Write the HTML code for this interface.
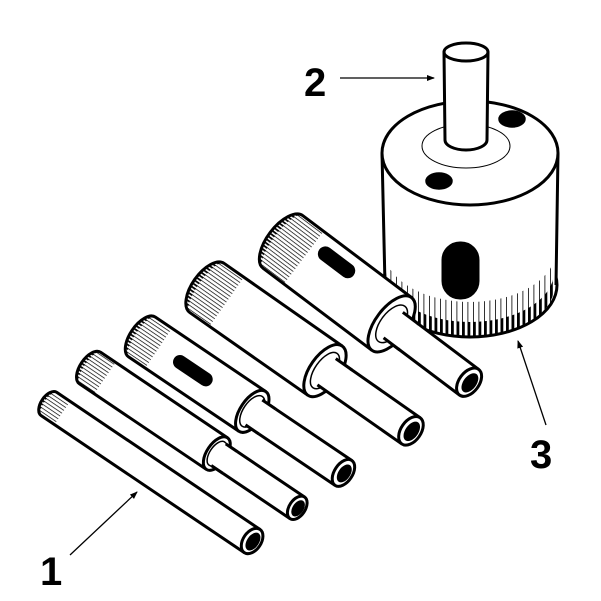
<!DOCTYPE html>
<html><head><style>html,body{margin:0;padding:0;background:#fff}svg{display:block}</style></head>
<body>
<svg width="601" height="601" viewBox="0 0 601 601" xmlns="http://www.w3.org/2000/svg">
<defs>
<pattern id="kt" width="3.4" height="3.4" patternUnits="userSpaceOnUse"><rect x="0" y="0" width="3.4" height="1.7" fill="#000"/></pattern>
<pattern id="kh" width="3.4" height="3.4" patternUnits="userSpaceOnUse"><rect x="0" y="0" width="3.4" height="0.7" fill="#000"/></pattern>
<pattern id="vt" width="5.5" height="10" patternUnits="userSpaceOnUse"><rect x="0" y="0" width="2.8" height="10" fill="#000"/></pattern>
<pattern id="vh" width="5.5" height="10" patternUnits="userSpaceOnUse"><rect x="0" y="0" width="0.8" height="10" fill="#000"/></pattern>
<marker id="ar" markerWidth="8" markerHeight="8" refX="7" refY="4" orient="auto" markerUnits="userSpaceOnUse"><path d="M0,1 L8,4 L0,7 Z" fill="#000"/></marker>
</defs>
<g stroke="#000" stroke-width="3" fill="#fff">
<!-- big cylinder -->
<rect x="382" y="153" width="176" height="132" stroke="none"/>
<ellipse cx="470" cy="285" rx="87" ry="52"/>
<rect x="384" y="153" width="172" height="132" stroke="none"/>
<path d="M384,285 A86,52 0 0 0 556,285 L556,250 A86,52 0 0 1 384,250 Z" fill="url(#vh)" stroke="none"/>
<path d="M386,287 A84,50 0 0 0 554,287 L554,272 A84,50 0 0 1 386,272 Z" fill="url(#vt)" stroke="none"/>
<path d="M382,153 L385,285 M558,153 L556,285" fill="none"/>
<ellipse cx="470" cy="153" rx="88" ry="52"/>
<ellipse cx="466" cy="146" rx="44" ry="22" stroke-width="1"/>
<ellipse cx="512" cy="119" rx="13" ry="8" fill="#000" stroke-width="1.5"/>
<ellipse cx="439" cy="181" rx="13" ry="8" fill="#000" stroke-width="1.5"/>
<rect x="443" y="243" width="35" height="55" rx="17" fill="#000"/>
<rect x="444" y="52" width="44" height="96" stroke="none"/>
<path d="M444,52 L445,140 A21,10 0 0 0 487,140 L488,52" />
<ellipse cx="466" cy="52" rx="22" ry="9"/>

<!-- tube 5 -->
<g transform="translate(283,242) rotate(37)">
<rect x="136" y="-16" width="97" height="32" stroke="none"/>
<path d="M136,-16 L233,-16 M136,16 L233,16" fill="none"/>
<ellipse cx="233" cy="0" rx="10" ry="16"/><ellipse cx="234" cy="0" rx="6.5" ry="11" fill="#000" stroke="none"/>
<path d="M136,-33 L0,-33 A16,33 0 0 0 0,33 L136,33" />
<path d="M0,-33 A16,33 0 0 0 0,33 L26,33 L26,-33 Z" fill="url(#kh)" stroke="none"/>
<path d="M0,-33 A16,33 0 0 0 0,33 A10,33 0 0 1 0,-33 Z" fill="url(#kt)" stroke="none"/>
<ellipse cx="136" cy="0" rx="16" ry="33"/>
<ellipse cx="136" cy="0" rx="11" ry="22" stroke-width="1.5"/>
<rect x="136" y="-16" width="20" height="32" stroke="none"/>
<path d="M138,-16 L158,-16 M138,16 L158,16" fill="none"/>
<rect x="35" y="-22" width="40" height="12" rx="6" fill="#000"/>
</g>
<!-- tube 4 -->
<g transform="translate(207,288) rotate(35)">
<rect x="144" y="-16" width="105" height="32" stroke="none"/>
<path d="M144,-16 L249,-16 M144,16 L249,16" fill="none"/>
<ellipse cx="249" cy="0" rx="10" ry="16"/><ellipse cx="250" cy="0" rx="6.5" ry="11" fill="#000" stroke="none"/>
<path d="M144,-30 L0,-30 A15,30 0 0 0 0,30 L144,30" />
<path d="M0,-30 A15,30 0 0 0 0,30 L24,30 L24,-30 Z" fill="url(#kh)" stroke="none"/>
<path d="M0,-30 A15,30 0 0 0 0,30 A9,30 0 0 1 0,-30 Z" fill="url(#kt)" stroke="none"/>
<ellipse cx="144" cy="0" rx="15" ry="30"/>
<ellipse cx="144" cy="0" rx="10" ry="21" stroke-width="1.5"/>
<rect x="144" y="-16" width="20" height="32" stroke="none"/>
<path d="M146,-16 L166,-16 M146,16 L166,16" fill="none"/>
</g>
<!-- tube 3 -->
<g transform="translate(142,337) rotate(34)">
<rect x="133" y="-15" width="110" height="30" stroke="none"/>
<path d="M133,-15 L243,-15 M133,15 L243,15" fill="none"/>
<ellipse cx="243" cy="0" rx="9" ry="15"/><ellipse cx="244" cy="0" rx="6" ry="10" fill="#000" stroke="none"/>
<path d="M133,-24 L0,-24 A12,24 0 0 0 0,24 L133,24" />
<path d="M0,-24 A12,24 0 0 0 0,24 L20,24 L20,-24 Z" fill="url(#kh)" stroke="none"/>
<path d="M0,-24 A12,24 0 0 0 0,24 A7,24 0 0 1 0,-24 Z" fill="url(#kt)" stroke="none"/>
<ellipse cx="133" cy="0" rx="12" ry="24"/>
<ellipse cx="133" cy="0" rx="9" ry="18" stroke-width="1.5"/>
<rect x="133" y="-15" width="18" height="30" stroke="none"/>
<path d="M135,-15 L151,-15 M135,15 L151,15" fill="none"/>
<rect x="40" y="-6" width="42" height="11" rx="5.5" fill="#000"/>
</g>
<!-- tube 2 -->
<g transform="translate(90,368) rotate(34)">
<rect x="153" y="-13" width="97" height="26" stroke="none"/>
<path d="M153,-13 L250,-13 M153,13 L250,13" fill="none"/>
<ellipse cx="250" cy="0" rx="8" ry="13"/><ellipse cx="251" cy="0" rx="5.5" ry="9" fill="#000" stroke="none"/>
<path d="M153,-19 L0,-19 A10,19 0 0 0 0,19 L153,19" />
<path d="M0,-19 A10,19 0 0 0 0,19 L18,19 L18,-19 Z" fill="url(#kh)" stroke="none"/>
<path d="M0,-19 A10,19 0 0 0 0,19 A6,19 0 0 1 0,-19 Z" fill="url(#kt)" stroke="none"/>
<ellipse cx="153" cy="0" rx="10" ry="19"/>
<ellipse cx="153" cy="0" rx="7" ry="14" stroke-width="1.5"/>
<rect x="153" y="-13" width="16" height="26" stroke="none"/>
<path d="M155,-13 L169,-13 M155,13 L169,13" fill="none"/>
</g>
<!-- tube 1 -->
<g transform="translate(49,404) rotate(34)">
<path d="M245,-14 L0,-14 A8,14 0 0 0 0,14 L245,14" />
<path d="M0,-14 A8,14 0 0 0 0,14 L16,14 L16,-14 Z" fill="url(#kh)" stroke="none"/>
<path d="M0,-14 A8,14 0 0 0 0,14 A5,14 0 0 1 0,-14 Z" fill="url(#kt)" stroke="none"/>
<ellipse cx="245" cy="0" rx="9" ry="14"/><ellipse cx="246" cy="0" rx="6" ry="10" fill="#000" stroke="none"/>
</g>
</g>
<!-- leaders -->
<g stroke="#000" stroke-width="1.3" fill="none">
<line x1="70" y1="555" x2="137" y2="492" marker-end="url(#ar)"/>
<line x1="340" y1="78" x2="434" y2="78" marker-end="url(#ar)"/>
<line x1="546" y1="425" x2="518" y2="341" marker-end="url(#ar)"/>
</g>
<g font-family="Liberation Sans, sans-serif" font-weight="bold" font-size="40" fill="#000">
<text x="40" y="585">1</text>
<text x="304" y="96">2</text>
<text x="530" y="468">3</text>
</g>
</svg>
</body></html>
